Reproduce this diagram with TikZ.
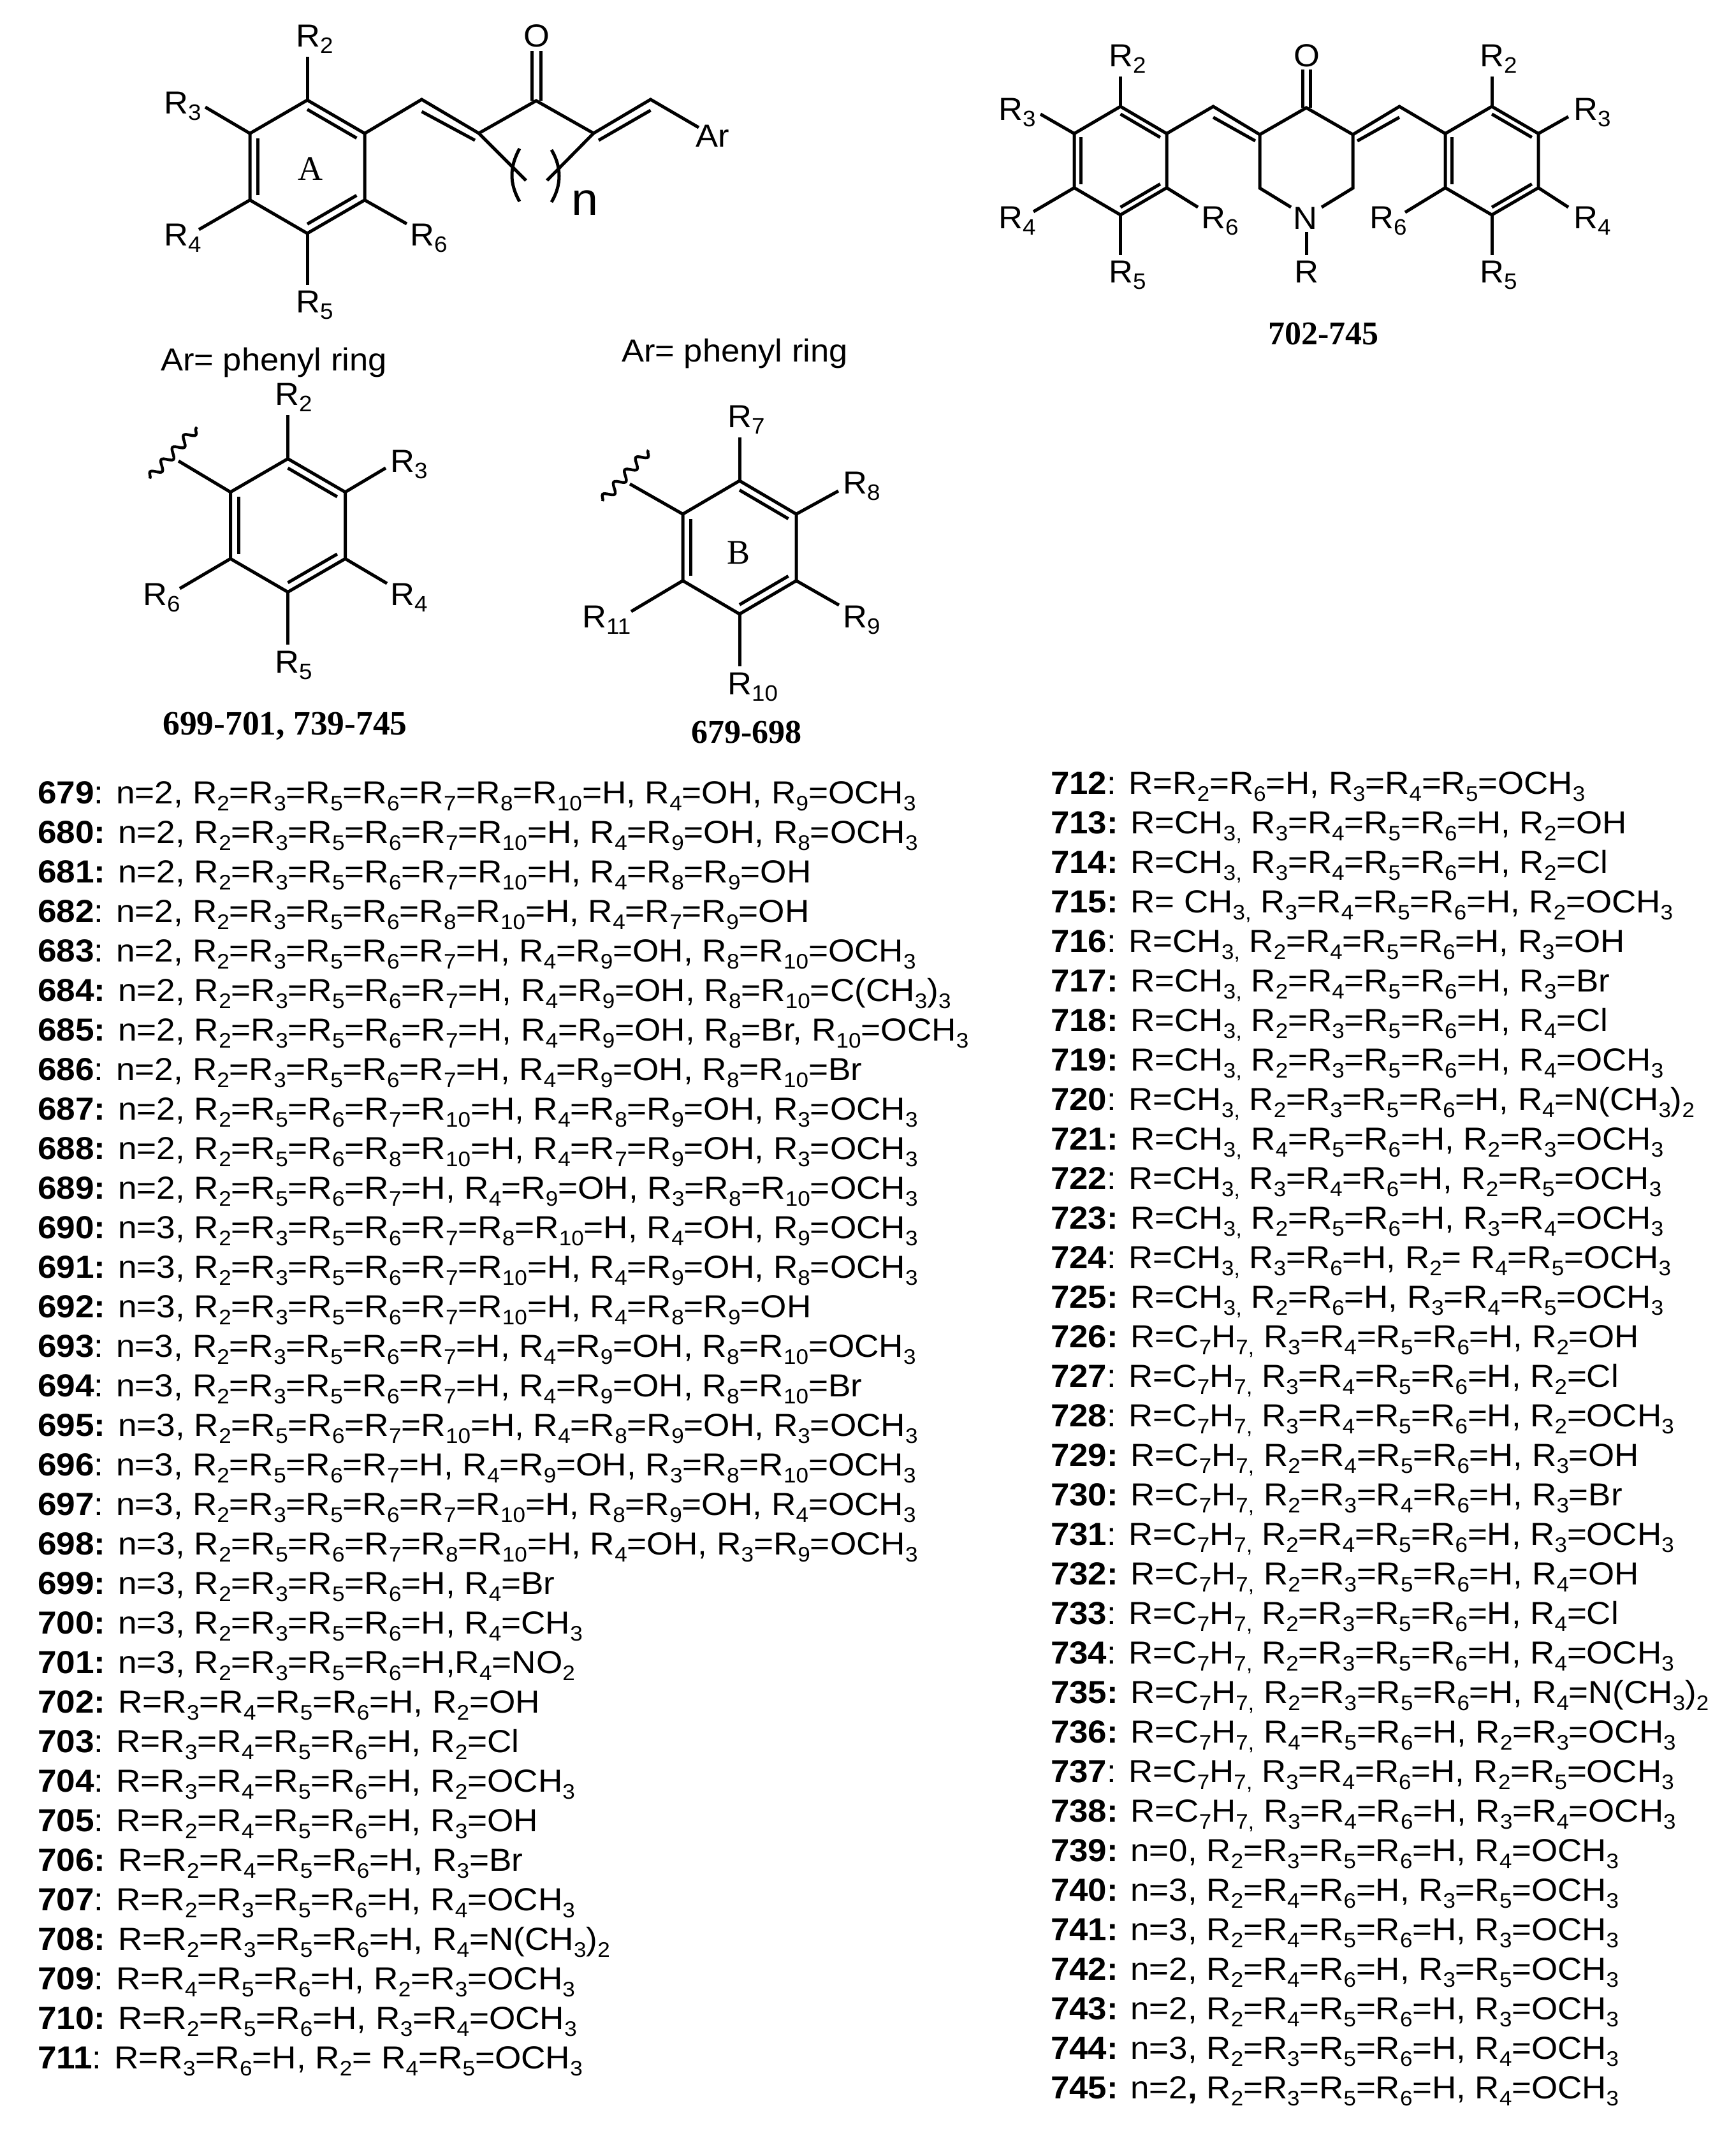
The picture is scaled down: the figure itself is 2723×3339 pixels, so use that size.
\documentclass[tikz,border=0pt]{standalone}
\usepackage{fontspec}
\usetikzlibrary{calc,decorations.pathmorphing}
\setmainfont{Liberation Sans}
\newfontfamily\lstfam[FakeStretch=1.063]{Liberation Sans}
\newfontfamily\lstrfam[FakeStretch=1.057]{Liberation Sans}
\newfontfamily\labfam[FakeStretch=1.05]{Liberation Sans}
\newfontfamily\serfam{Liberation Serif}
\newcommand\su[1]{\raisebox{-11pt}{\fontsize{33}{33}\selectfont\mdseries #1}}
\newcommand\R[1]{R\su{#1}}
\newcommand\pn[1]{{\bfseries #1}: }
\newcommand\bn[1]{{\bfseries #1:} }
\newcommand\ls[1]{\raisebox{-10pt}{\fontsize{35}{35}\selectfont #1}}
\newcommand\Rl[1]{R\ls{#1}}
\tikzset{
  bond/.style={line width=5pt,line cap=butt,line join=miter},
  lst/.style={anchor=base west,inner sep=0pt,font=\lstfam\fontsize{50}{56}\selectfont},
  lstr/.style={anchor=base west,inner sep=0pt,font=\lstrfam\fontsize{50}{56}\selectfont},
  lab/.style={anchor=base west,inner sep=0pt,font=\labfam\fontsize{50}{56}\selectfont},
  ringlab/.style={anchor=base west,inner sep=0pt,font=\serfam\fontsize{54}{60}\selectfont},
  cpd/.style={anchor=base,inner sep=0pt,font=\serfam\bfseries\fontsize{52}{60}\selectfont},
  cpdw/.style={cpd,font=\serfam\bfseries\fontsize{53.5}{60}\selectfont},
  wavy/.style={line width=4.4pt,decorate,decoration={snake,amplitude=7pt,segment length=26pt}}
}
% hexagon vertices: 1 top, 2 upper right, 3 lower right, 4 bottom, 5 lower left, 6 upper left
\newcommand\hexat[5]{%
  \coordinate (#1c) at (#2,#3);
  \coordinate (#11) at (#2,#3-#5);
  \coordinate (#12) at (#2+#4,#3-#5/2);
  \coordinate (#13) at (#2+#4,#3+#5/2);
  \coordinate (#14) at (#2,#3+#5);
  \coordinate (#15) at (#2-#4,#3+#5/2);
  \coordinate (#16) at (#2-#4,#3-#5/2);
  \draw[bond] (#11)--(#12)--(#13)--(#14)--(#15)--(#16)--cycle;
  \draw[bond] ($(#11)!.14!(#1c)$)--($(#12)!.14!(#1c)$);
  \draw[bond] ($(#13)!.14!(#1c)$)--($(#14)!.14!(#1c)$);
  \draw[bond] ($(#15)!.14!(#1c)$)--($(#16)!.14!(#1c)$);
}
\begin{document}
\begin{tikzpicture}[x=1pt,y=-1pt]
\useasboundingbox (0,0) rectangle (2723,3339);
\fill[white] (0,0) rectangle (2723,3339);
%% ---------- structure 1 ----------
\hexat{a}{482}{261.5}{90}{104.5}
\coordinate (v1) at (661.5,156);
\coordinate (c1) at (751,209);
\coordinate (co) at (841,158);
\coordinate (c2) at (931,209);
\coordinate (v2) at (1020.5,156);
\coordinate (arend) at (1096,200);
\coordinate (oa) at (834.5,80);
\coordinate (oa2) at (834.5,158);
\coordinate (ob) at (848,80);
\coordinate (ob2) at (848,158);
\coordinate (v1i) at (661.5,175);
\coordinate (c1i) at (745,220);
\coordinate (v2i) at (1020.5,173);
\coordinate (c2i) at (939,220);
\coordinate (d1) at (825,283);
\coordinate (d2) at (858,283);
\draw[bond] (a2)--(v1)--(c1)--(co)--(c2)--(v2)--(arend);
\draw[bond] (v1i)--(c1i);
\draw[bond] (v2i)--(c2i);
\draw[bond] (oa)--(oa2);
\draw[bond] (ob)--(ob2);
\draw[bond] (c1)--(d1);
\draw[bond] (c2)--(d2);
\coordinate (p1a) at (815,233); \coordinate (p1b) at (815,316);
\coordinate (p2a) at (865,235); \coordinate (p2b) at (865,317);
\draw[bond] (p1a) .. controls (799,262) and (799,288) .. (p1b);
\draw[bond] (p2a) .. controls (881,262) and (881,290) .. (p2b);
\coordinate (e2) at (482,89);
\coordinate (e3) at (322,168);
\coordinate (e4) at (312,360);
\coordinate (e5) at (482,447);
\coordinate (e6) at (638,351);
\draw[bond] (a1)--(e2);
\draw[bond] (a6)--(e3);
\draw[bond] (a5)--(e4);
\draw[bond] (a4)--(e5);
\draw[bond] (a3)--(e6);
\node[lab] (s1r2) at (464,73) {\Rl2};
\node[lab] (s1r3) at (257,178) {\Rl3};
\node[lab] (s1r4) at (257,385) {\Rl4};
\node[lab] (s1r5) at (464,490) {\Rl5};
\node[lab] (s1r6) at (643,385) {\Rl6};
\node[lab] (s1o) at (821,73) {O};
\node[lab] (s1ar) at (1091,230) {Ar};
\node[anchor=base west,inner sep=0pt,font=\labfam\fontsize{72}{80}\selectfont] (s1n) at (896,337) {n};
\node[ringlab] (s1a) at (467,282) {A};
%% ---------- structure 2 ----------
\hexat{l}{1757.5}{252}{72.5}{85}
\hexat{r}{2340}{252}{73}{85}
\coordinate (w1) at (1903,167);
\coordinate (w2) at (1976,211);
\coordinate (wo) at (2049,169);
\coordinate (w3) at (2122,211);
\coordinate (w4) at (2195,167);
\coordinate (w1i) at (1903,184);
\coordinate (w2i) at (1969,221);
\coordinate (w4i) at (2195,184);
\coordinate (w3i) at (2129,221);
\coordinate (p1) at (1976,295);
\coordinate (p2) at (2122,295);
\coordinate (n1) at (2025,325);
\coordinate (n2) at (2073,325);
\coordinate (n3) at (2049,364);
\coordinate (n4) at (2049,399.5);
\coordinate (q1) at (2043,109);
\coordinate (q1b) at (2043,169);
\coordinate (q2) at (2055,109);
\coordinate (q2b) at (2055,169);
\draw[bond] (l2)--(w1)--(w2)--(wo)--(w3)--(w4)--(r6);
\draw[bond] (w1i)--(w2i);
\draw[bond] (w4i)--(w3i);
\draw[bond] (q1)--(q1b);
\draw[bond] (q2)--(q2b);
\draw[bond] (n1)--(p1)--(w2);
\draw[bond] (n2)--(p2)--(w3);
\draw[bond] (n3)--(n4);
\coordinate (f2) at (1757.5,120);
\coordinate (f3) at (1632,179);
\coordinate (f4) at (1621,332);
\coordinate (f5) at (1757.5,399.5);
\coordinate (f6) at (1879,325);
\draw[bond] (l1)--(f2);
\draw[bond] (l6)--(f3);
\draw[bond] (l5)--(f4);
\draw[bond] (l4)--(f5);
\draw[bond] (l3)--(f6);
\coordinate (g2) at (2340,120);
\coordinate (g3) at (2460,183);
\coordinate (g4) at (2460,325);
\coordinate (g5) at (2340,399.5);
\coordinate (g6) at (2204,333);
\draw[bond] (r1)--(g2);
\draw[bond] (r2)--(g3);
\draw[bond] (r3)--(g4);
\draw[bond] (r4)--(g5);
\draw[bond] (r5)--(g6);
\node[lab] (s2r2l) at (1739,104) {\Rl2};
\node[lab] (s2r3l) at (1566,188) {\Rl3};
\node[lab] (s2r4l) at (1566,358) {\Rl4};
\node[lab] (s2r5l) at (1739,443) {\Rl5};
\node[lab] (s2r6l) at (1884,358) {\Rl6};
\node[lab] (s2r2r) at (2321,104) {\Rl2};
\node[lab] (s2r3r) at (2468,188) {\Rl3};
\node[lab] (s2r4r) at (2468,358) {\Rl4};
\node[lab] (s2r5r) at (2321,443) {\Rl5};
\node[lab] (s2r6r) at (2148,358) {\Rl6};
\node[lab] (s2o) at (2029,104) {O};
\node[lab] (s2n) at (2028,359) {N};
\node[lab] (s2r) at (2030,443) {R};
\node[cpd] (c702) at (2076,540) {702-745};
%% ---------- phenyl ring, left ----------
\node[lab] (ar1) at (252,581) {Ar= phenyl ring};
\hexat{h}{451.5}{824}{90}{104.5}
\coordinate (hw) at (280,723);
\coordinate (hwa) at (235,750.5);
\coordinate (hwb) at (309,670);
\draw[bond] (h6)--(hw);
\draw[wavy] (hwa)--(hwb);
\coordinate (h2e) at (451.5,651);
\coordinate (h3e) at (605,734);
\coordinate (h4e) at (607,915);
\coordinate (h5e) at (451.5,1011);
\coordinate (h6e) at (282,923);
\draw[bond] (h1)--(h2e);
\draw[bond] (h2)--(h3e);
\draw[bond] (h3)--(h4e);
\draw[bond] (h4)--(h5e);
\draw[bond] (h5)--(h6e);
\node[lab] (hr2) at (431,635) {\Rl2};
\node[lab] (hr3) at (612,740) {\Rl3};
\node[lab] (hr4) at (612,949) {\Rl4};
\node[lab] (hr5) at (431,1055) {\Rl5};
\node[lab] (hr6) at (224,949) {\Rl6};
\node[cpdw] (c699) at (447,1152) {699-701, 739-745};
%% ---------- phenyl ring, right ----------
\node[lab] (ar2) at (975,567) {Ar= phenyl ring};
\hexat{b}{1160}{858.5}{89}{104.5}
\coordinate (bw) at (988,759);
\coordinate (bwa) at (945,786);
\coordinate (bwb) at (1017,706);
\draw[bond] (b6)--(bw);
\draw[wavy] (bwa)--(bwb);
\coordinate (b7e) at (1160,686);
\coordinate (b8e) at (1315,770);
\coordinate (b9e) at (1316,949);
\coordinate (b10e) at (1160,1045);
\coordinate (b11e) at (990,959);
\draw[bond] (b1)--(b7e);
\draw[bond] (b2)--(b8e);
\draw[bond] (b3)--(b9e);
\draw[bond] (b4)--(b10e);
\draw[bond] (b5)--(b11e);
\node[lab] (br7) at (1141,670) {\Rl7};
\node[lab] (br8) at (1322,774) {\Rl8};
\node[lab] (br9) at (1322,984) {\Rl9};
\node[lab] (br10) at (1141,1089) {\Rl{10}};
\node[lab] (br11) at (913,984) {\Rl{11}};
\node[ringlab] (bb) at (1140,884) {B};
\node[cpd] (c679) at (1171,1165) {679-698};
%% ---------- left list ----------
\node[lst] (t679) at (59,1260) {\pn{679}n=2, \R2=\R3=\R5=\R6=\R7=\R8=\R{10}=H, \R4=OH, \R9=OCH\su3};
\node[lst] (t680) at (59,1322) {\bn{680}n=2, \R2=\R3=\R5=\R6=\R7=\R{10}=H, \R4=\R9=OH, \R8=OCH\su3};
\node[lst] (t681) at (59,1384) {\bn{681}n=2, \R2=\R3=\R5=\R6=\R7=\R{10}=H, \R4=\R8=\R9=OH};
\node[lst] (t682) at (59,1446) {\pn{682}n=2, \R2=\R3=\R5=\R6=\R8=\R{10}=H, \R4=\R7=\R9=OH};
\node[lst] (t683) at (59,1508) {\pn{683}n=2, \R2=\R3=\R5=\R6=\R7=H, \R4=\R9=OH, \R8=\R{10}=OCH\su3};
\node[lst] (t684) at (59,1570) {\bn{684}n=2, \R2=\R3=\R5=\R6=\R7=H, \R4=\R9=OH, \R8=\R{10}=C(CH\su3)\su3};
\node[lst] (t685) at (59,1632) {\bn{685}n=2, \R2=\R3=\R5=\R6=\R7=H, \R4=\R9=OH, \R8=Br, \R{10}=OCH\su3};
\node[lst] (t686) at (59,1694) {\pn{686}n=2, \R2=\R3=\R5=\R6=\R7=H, \R4=\R9=OH, \R8=\R{10}=Br};
\node[lst] (t687) at (59,1756) {\bn{687}n=2, \R2=\R5=\R6=\R7=\R{10}=H, \R4=\R8=\R9=OH, \R3=OCH\su3};
\node[lst] (t688) at (59,1818) {\bn{688}n=2, \R2=\R5=\R6=\R8=\R{10}=H, \R4=\R7=\R9=OH, \R3=OCH\su3};
\node[lst] (t689) at (59,1880) {\bn{689}n=2, \R2=\R5=\R6=\R7=H, \R4=\R9=OH, \R3=\R8=\R{10}=OCH\su3};
\node[lst] (t690) at (59,1942) {\bn{690}n=3, \R2=\R3=\R5=\R6=\R7=\R8=\R{10}=H, \R4=OH, \R9=OCH\su3};
\node[lst] (t691) at (59,2004) {\bn{691}n=3, \R2=\R3=\R5=\R6=\R7=\R{10}=H, \R4=\R9=OH, \R8=OCH\su3};
\node[lst] (t692) at (59,2066) {\bn{692}n=3, \R2=\R3=\R5=\R6=\R7=\R{10}=H, \R4=\R8=\R9=OH};
\node[lst] (t693) at (59,2128) {\pn{693}n=3, \R2=\R3=\R5=\R6=\R7=H, \R4=\R9=OH, \R8=\R{10}=OCH\su3};
\node[lst] (t694) at (59,2190) {\pn{694}n=3, \R2=\R3=\R5=\R6=\R7=H, \R4=\R9=OH, \R8=\R{10}=Br};
\node[lst] (t695) at (59,2252) {\bn{695}n=3, \R2=\R5=\R6=\R7=\R{10}=H, \R4=\R8=\R9=OH, \R3=OCH\su3};
\node[lst] (t696) at (59,2314) {\pn{696}n=3, \R2=\R5=\R6=\R7=H, \R4=\R9=OH, \R3=\R8=\R{10}=OCH\su3};
\node[lst] (t697) at (59,2376) {\pn{697}n=3, \R2=\R3=\R5=\R6=\R7=\R{10}=H, \R8=\R9=OH, \R4=OCH\su3};
\node[lst] (t698) at (59,2438) {\bn{698}n=3, \R2=\R5=\R6=\R7=\R8=\R{10}=H, \R4=OH, \R3=\R9=OCH\su3};
\node[lst] (t699) at (59,2500) {\bn{699}n=3, \R2=\R3=\R5=\R6=H, \R4=Br};
\node[lst] (t700) at (59,2562) {\bn{700}n=3, \R2=\R3=\R5=\R6=H, \R4=CH\su3};
\node[lst] (t701) at (59,2624) {\bn{701}n=3, \R2=\R3=\R5=\R6=H,\R4=NO\su2};
\node[lst] (t702) at (59,2686) {\bn{702}R=\R3=\R4=\R5=\R6=H, \R2=OH};
\node[lst] (t703) at (59,2748) {\pn{703}R=\R3=\R4=\R5=\R6=H, \R2=Cl};
\node[lst] (t704) at (59,2810) {\pn{704}R=\R3=\R4=\R5=\R6=H, \R2=OCH\su3};
\node[lst] (t705) at (59,2872) {\pn{705}R=\R2=\R4=\R5=\R6=H, \R3=OH};
\node[lst] (t706) at (59,2934) {\bn{706}R=\R2=\R4=\R5=\R6=H, \R3=Br};
\node[lst] (t707) at (59,2996) {\pn{707}R=\R2=\R3=\R5=\R6=H, \R4=OCH\su3};
\node[lst] (t708) at (59,3058) {\bn{708}R=\R2=\R3=\R5=\R6=H, \R4=N(CH\su3)\su2};
\node[lst] (t709) at (59,3120) {\pn{709}R=\R4=\R5=\R6=H, \R2=\R3=OCH\su3};
\node[lst] (t710) at (59,3182) {\bn{710}R=\R2=\R5=\R6=H, \R3=\R4=OCH\su3};
\node[lst] (t711) at (59,3244) {\pn{711}R=\R3=\R6=H, \R2= \R4=\R5=OCH\su3};
%% ---------- right list ----------
\node[lstr] (t712) at (1648,1245) {\pn{712}R=\R2=\R6=H, \R3=\R4=\R5=OCH\su3};
\node[lstr] (t713) at (1648,1307) {\bn{713}R=CH\su{3,} \R3=\R4=\R5=\R6=H, \R2=OH};
\node[lstr] (t714) at (1648,1369) {\bn{714}R=CH\su{3,} \R3=\R4=\R5=\R6=H, \R2=Cl};
\node[lstr] (t715) at (1648,1431) {\bn{715}R= CH\su{3,} \R3=\R4=\R5=\R6=H, \R2=OCH\su3};
\node[lstr] (t716) at (1648,1493) {\pn{716}R=CH\su{3,} \R2=\R4=\R5=\R6=H, \R3=OH};
\node[lstr] (t717) at (1648,1555) {\bn{717}R=CH\su{3,} \R2=\R4=\R5=\R6=H, \R3=Br};
\node[lstr] (t718) at (1648,1617) {\bn{718}R=CH\su{3,} \R2=\R3=\R5=\R6=H, \R4=Cl};
\node[lstr] (t719) at (1648,1679) {\bn{719}R=CH\su{3,} \R2=\R3=\R5=\R6=H, \R4=OCH\su3};
\node[lstr] (t720) at (1648,1741) {\pn{720}R=CH\su{3,} \R2=\R3=\R5=\R6=H, \R4=N(CH\su3)\su2};
\node[lstr] (t721) at (1648,1803) {\bn{721}R=CH\su{3,} \R4=\R5=\R6=H, \R2=\R3=OCH\su3};
\node[lstr] (t722) at (1648,1865) {\pn{722}R=CH\su{3,} \R3=\R4=\R6=H, \R2=\R5=OCH\su3};
\node[lstr] (t723) at (1648,1927) {\bn{723}R=CH\su{3,} \R2=\R5=\R6=H, \R3=\R4=OCH\su3};
\node[lstr] (t724) at (1648,1989) {\pn{724}R=CH\su{3,} \R3=\R6=H, \R2= \R4=\R5=OCH\su3};
\node[lstr] (t725) at (1648,2051) {\bn{725}R=CH\su{3,} \R2=\R6=H, \R3=\R4=\R5=OCH\su3};
\node[lstr] (t726) at (1648,2113) {\bn{726}R=C\su7H\su{7,} \R3=\R4=\R5=\R6=H, \R2=OH};
\node[lstr] (t727) at (1648,2175) {\pn{727}R=C\su7H\su{7,} \R3=\R4=\R5=\R6=H, \R2=Cl};
\node[lstr] (t728) at (1648,2237) {\pn{728}R=C\su7H\su{7,} \R3=\R4=\R5=\R6=H, \R2=OCH\su3};
\node[lstr] (t729) at (1648,2299) {\bn{729}R=C\su7H\su{7,} \R2=\R4=\R5=\R6=H, \R3=OH};
\node[lstr] (t730) at (1648,2361) {\bn{730}R=C\su7H\su{7,} \R2=\R3=\R4=\R6=H, \R3=Br};
\node[lstr] (t731) at (1648,2423) {\pn{731}R=C\su7H\su{7,} \R2=\R4=\R5=\R6=H, \R3=OCH\su3};
\node[lstr] (t732) at (1648,2485) {\bn{732}R=C\su7H\su{7,} \R2=\R3=\R5=\R6=H, \R4=OH};
\node[lstr] (t733) at (1648,2547) {\pn{733}R=C\su7H\su{7,} \R2=\R3=\R5=\R6=H, \R4=Cl};
\node[lstr] (t734) at (1648,2609) {\pn{734}R=C\su7H\su{7,} \R2=\R3=\R5=\R6=H, \R4=OCH\su3};
\node[lstr] (t735) at (1648,2671) {\bn{735}R=C\su7H\su{7,} \R2=\R3=\R5=\R6=H, \R4=N(CH\su3)\su2};
\node[lstr] (t736) at (1648,2733) {\bn{736}R=C\su7H\su{7,} \R4=\R5=\R6=H, \R2=\R3=OCH\su3};
\node[lstr] (t737) at (1648,2795) {\pn{737}R=C\su7H\su{7,} \R3=\R4=\R6=H, \R2=\R5=OCH\su3};
\node[lstr] (t738) at (1648,2857) {\bn{738}R=C\su7H\su{7,} \R3=\R4=\R6=H, \R3=\R4=OCH\su3};
\node[lstr] (t739) at (1648,2919) {\bn{739}n=0, \R2=\R3=\R5=\R6=H, \R4=OCH\su3};
\node[lstr] (t740) at (1648,2981) {\bn{740}n=3, \R2=\R4=\R6=H, \R3=\R5=OCH\su3};
\node[lstr] (t741) at (1648,3043) {\bn{741}n=3, \R2=\R4=\R5=\R6=H, \R3=OCH\su3};
\node[lstr] (t742) at (1648,3105) {\bn{742}n=2, \R2=\R4=\R6=H, \R3=\R5=OCH\su3};
\node[lstr] (t743) at (1648,3167) {\bn{743}n=2, \R2=\R4=\R5=\R6=H, \R3=OCH\su3};
\node[lstr] (t744) at (1648,3229) {\bn{744}n=3, \R2=\R3=\R5=\R6=H, \R4=OCH\su3};
\node[lstr] (t745) at (1648,3291) {\bn{745}n=2{\bfseries,} \R2=\R3=\R5=\R6=H, \R4=OCH\su3};
\end{tikzpicture}
\end{document}
